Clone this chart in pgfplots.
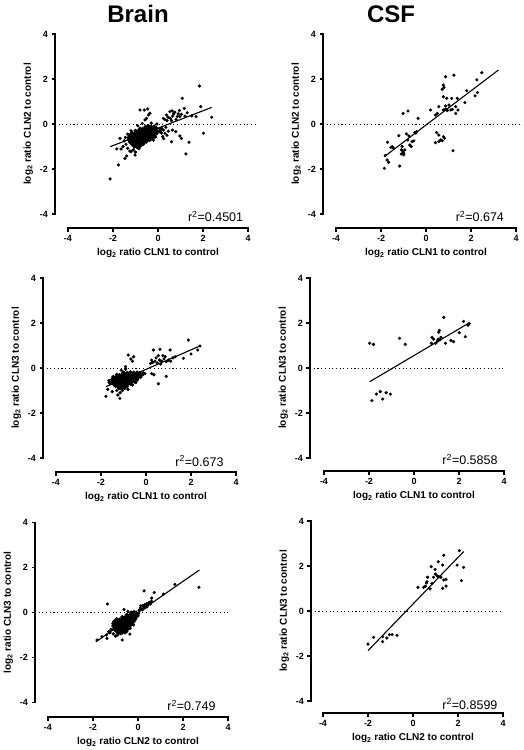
\documentclass[border=0pt]{standalone}
\usepackage{pgfplots}
\pgfplotsset{compat=1.18}
\usepackage{fontspec}
\setmainfont{Liberation Sans}

\pgfplotsset{
 prism/.style={
   x=22.5pt, y=22.5pt,
   xmin=-4, xmax=4, ymin=-4, ymax=4,
   clip=false,
   anchor=south west,
   axis lines*=left,
   axis line style={draw=none},
   tick align=outside,
   major tick length=3.5pt,
   tick style={draw=none},
   xtick={-4,-2,0,2,4}, xticklabels={-4,-2,0,2,4},
   ytick={-4,-2,0,2,4}, yticklabels={-4,-2,0,2,4},
   minor tick num=0,
   tick label style={font=\bfseries\fontsize{9}{10}\selectfont},
   label style={font=\bfseries\fontsize{10}{12}\selectfont},
 },
 dots/.style={only marks, mark=*, mark size=1.4pt, black},
 core/.style={only marks, mark=*, mark size=1.95pt, black},
 fit/.style={black, line width=1.1pt, no marks},
 zero/.style={black, line width=0.9pt, dash pattern=on 1.1pt off 2.6pt, no marks},
 axdash/.style={black, line width=1.2pt, no marks, dash pattern=on 400pt off 1pt},
 bar/.style={fill=black, draw=none, no marks},
}
% ticks: #1 = x of y-axis line, #2 = y of x-axis line, #3 = x end of y ticks, #4 = y end of x ticks
\newcommand{\prismticks}[4]{%
 \addplot[axdash] coordinates {(-4,#2) (-4,#4)};
 \addplot[axdash] coordinates {(-2,#2) (-2,#4)};
 \addplot[axdash] coordinates {(0,#2) (0,#4)};
 \addplot[axdash] coordinates {(2,#2) (2,#4)};
 \addplot[axdash] coordinates {(4,#2) (4,#4)};
 \addplot[axdash] coordinates {(#1,-4) (#3,-4)};
 \addplot[axdash] coordinates {(#1,-2) (#3,-2)};
 \addplot[axdash] coordinates {(#1,0) (#3,0)};
 \addplot[axdash] coordinates {(#1,2) (#3,2)};
 \addplot[axdash] coordinates {(#1,4) (#3,4)};
}
% axis bars: #1,#2 = x range of the y-axis bar, #3,#4 = y range of the x-axis bar
\newcommand{\prismbars}[4]{%
 \addplot[bar] coordinates {(#1,-4.03) (#2,-4.03) (#2,4.03) (#1,4.03)} -- cycle;
 \addplot[bar] coordinates {(-4.03,#3) (4.03,#3) (4.03,#4) (-4.03,#4)} -- cycle;
}
\newcommand{\rsq}[1]{\fontsize{12.5}{14}\selectfont r\textsuperscript{2}=#1}

\begin{document}
\begin{tikzpicture}
\useasboundingbox (0pt,0pt) rectangle (524pt,-750pt);

% ---------------- P1 Brain CLN1 vs CLN2
\begin{axis}[prism, at={(68pt,-214pt)}, axis x line shift=14pt, axis y line shift=13pt,
  xlabel={log\textsubscript{2} ratio CLN1 to control},
  ylabel={log\textsubscript{2} ratio CLN2 to control}]
\prismbars{-4.607}{-4.549}{-4.651}{-4.593}
\prismticks{-4.578}{-4.622}{-4.73}{-4.79}
\addplot[zero] coordinates {(-4.58,0) (4.44,0)};
\addplot[core] coordinates {
(-0.55,-0.12) (-0.42,-0.1) (-0.3,-0.13) (-0.17,-0.11)
(-0.8,-0.2) (-0.68,-0.22) (-0.56,-0.19) (-0.44,-0.21) (-0.32,-0.2) (-0.2,-0.22) (-0.08,-0.19)
(-1.0,-0.3) (-0.88,-0.32) (-0.76,-0.29) (-0.64,-0.31) (-0.52,-0.3) (-0.4,-0.32) (-0.28,-0.29) (-0.16,-0.31) (-0.04,-0.3)
(-1.15,-0.4) (-1.03,-0.42) (-0.91,-0.39) (-0.79,-0.41) (-0.67,-0.4) (-0.55,-0.42) (-0.43,-0.39) (-0.31,-0.41) (-0.19,-0.4) (-0.07,-0.42)
(-1.25,-0.5) (-1.13,-0.52) (-1.01,-0.49) (-0.89,-0.51) (-0.77,-0.5) (-0.65,-0.52) (-0.53,-0.49) (-0.41,-0.51) (-0.29,-0.5) (-0.17,-0.52)
(-1.3,-0.6) (-1.18,-0.62) (-1.06,-0.59) (-0.94,-0.61) (-0.82,-0.6) (-0.7,-0.62) (-0.58,-0.59) (-0.46,-0.61) (-0.34,-0.6) (-0.22,-0.62)
(-1.3,-0.7) (-1.18,-0.72) (-1.06,-0.69) (-0.94,-0.71) (-0.82,-0.7) (-0.7,-0.72) (-0.58,-0.69) (-0.46,-0.71) (-0.36,-0.7)
(-1.25,-0.8) (-1.13,-0.82) (-1.01,-0.79) (-0.89,-0.81) (-0.77,-0.8) (-0.65,-0.82) (-0.53,-0.79)
(-1.15,-0.9) (-1.03,-0.92) (-0.91,-0.89) (-0.79,-0.91) (-0.67,-0.9)
(-1.05,-1.0) (-0.93,-1.02) (-0.81,-0.99)
};
\addplot[dots] coordinates {
(-1.5,-0.75) (-1.45,-0.6) (-1.42,-0.9) (-1.55,-1.0) (-1.35,-1.08) (-1.25,-1.2) (-1.1,-1.15) (-1.0,-1.25) (-0.85,-1.1)
(-0.2,-0.72) (-0.1,-0.58) (0.05,-0.35) (0.08,-0.2) (-0.05,0.0) (-0.3,0.04) (-0.7,0.02) (-0.9,-0.08) (-1.2,-0.3) (-1.35,-0.45)
(-2.13,-2.44) (-1.76,-1.82) (-1.47,-1.53) (-1.39,-1.42) (-1.83,-1.11) (-1.64,-1.11) (-1.69,-0.64) (-1.02,-1.38) (-1.2,-1.23)
(-0.8,0.62) (-0.61,0.62) (-0.46,0.67) (-0.36,0.48) (-0.51,0.25) (-0.58,0.18) (-0.42,0.4)
(1.08,1.14) (1.84,1.69) (1.17,0.69) (1.9,0.77) (2.39,0.3) (2.02,-0.41) (1.38,-0.81) (1.24,-1.33)
(0.6,-0.79) (0.97,-0.53) (1.04,-0.64) (0.79,-0.34) (0.64,-0.27)
(0.24,0.25) (0.38,0.4) (0.53,0.55) (0.63,0.58) (0.75,0.53) (0.86,0.33) (0.97,0.33) (1.04,0.43) (1.5,0.36) (1.69,0.33)
(0.3,0.2) (0.45,0.3) (0.55,0.25) (0.65,0.35) (0.7,0.45) (0.8,0.2) (0.9,0.45) (0.6,0.15) (0.4,0.15) (1.2,0.35) (1.3,0.5) (0.95,0.6)
(0.16,-0.19) (0.24,-0.27) (0.31,-0.41) (0.21,-0.56) (0.46,-0.32) (0.35,-0.15) (0.15,-0.4) (0.25,-0.65) (0.12,-0.3) (0.4,-0.5)
};
\addplot[fit] coordinates {(-2.13,-1.01) (2.39,0.74)};
\node[anchor=base east] at (axis cs:3.94,-4.34) {\rsq{0.4501}};
\end{axis}

% ---------------- P2 CSF CLN1 vs CLN2
\begin{axis}[prism, at={(336pt,-214pt)}, axis x line shift=14pt, axis y line shift=13pt,
  xlabel={log\textsubscript{2} ratio CLN1 to control},
  ylabel={log\textsubscript{2} ratio CLN2 to control}]
\prismbars{-4.607}{-4.549}{-4.651}{-4.593}
\prismticks{-4.578}{-4.622}{-4.73}{-4.79}
\addplot[zero] coordinates {(-4.58,0) (4.3,0)};
\addplot[dots] coordinates {
(-1.85,-1.97) (-1.73,-1.6) (-1.66,-1.7) (-1.81,-1.4) (-1.71,-0.81) (-1.56,-1.04) (-1.44,-1.08)
(-1.17,-1.87) (-1.21,-0.52) (-1.09,-1.15) (-1.02,-1.23) (-0.99,-1.3) (-1.06,-1.0) (-0.94,-1.15)
(-0.87,-0.44) (-0.76,-0.53) (-0.81,-0.71) (-0.72,-0.93) (-0.66,-1.0) (-0.62,-0.78) (-0.54,-0.75)
(-0.5,-0.38) (-0.42,-0.34) (-1.02,0.47) (-0.8,0.58) (-0.35,0.25) (0.2,0.62) (0.42,0.4) (0.5,0.47)
(0.47,-0.38) (0.57,-0.49) (0.65,-0.71) (0.42,-0.83) (0.57,-0.78) (0.72,-0.74) (0.82,-0.63) (0.77,-0.56)
(1.2,-1.19) (0.57,0.77) (0.77,0.62) (0.87,0.67) (0.95,0.6) (1.1,0.62) (1.02,0.84) (0.87,0.8)
(0.77,1.21) (0.92,1.14) (0.72,1.54) (0.8,1.63) (0.77,1.73) (0.87,2.1) (1.24,2.17) (1.14,1.14)
(1.39,1.14) (1.32,0.77) (1.42,0.62) (1.32,0.47) (1.17,0.65) (1.73,0.95) (1.81,1.48) (2.18,1.25)
(2.29,1.4) (2.26,1.96) (2.48,2.28) (-0.99,-1.37) (-1.1,-1.33) (-0.45,-0.4) (-1.5,-1.0)
};
\addplot[fit] coordinates {(-1.85,-1.45) (3.22,2.4)};
\node[anchor=base east] at (axis cs:3.62,-4.34) {\rsq{0.674}};
\end{axis}

% ---------------- P3 Brain CLN1 vs CLN3
\begin{axis}[prism, at={(56pt,-458pt)}, axis x line shift=14pt, axis y line shift=13pt,
  xlabel={log\textsubscript{2} ratio CLN1 to control},
  ylabel={log\textsubscript{2} ratio CLN3 to control}]
\prismbars{-4.607}{-4.549}{-4.651}{-4.593}
\prismticks{-4.578}{-4.622}{-4.73}{-4.79}
\addplot[zero] coordinates {(-4.58,0) (4.04,0)};
\addplot[core] coordinates {
(-1.0,-0.2) (-0.85,-0.22) (-0.7,-0.19) (-0.55,-0.21) (-0.4,-0.2) (-0.28,-0.22)
(-1.3,-0.3) (-1.18,-0.32) (-1.06,-0.29) (-0.94,-0.31) (-0.82,-0.3) (-0.7,-0.32) (-0.58,-0.29) (-0.46,-0.31) (-0.34,-0.3) (-0.22,-0.32)
(-1.45,-0.4) (-1.33,-0.42) (-1.21,-0.39) (-1.09,-0.41) (-0.97,-0.4) (-0.85,-0.42) (-0.73,-0.39) (-0.61,-0.41) (-0.49,-0.4) (-0.37,-0.42) (-0.25,-0.4)
(-1.5,-0.5) (-1.38,-0.52) (-1.26,-0.49) (-1.14,-0.51) (-1.02,-0.5) (-0.9,-0.52) (-0.78,-0.49) (-0.66,-0.51) (-0.54,-0.5) (-0.4,-0.52)
(-1.5,-0.6) (-1.38,-0.62) (-1.26,-0.59) (-1.14,-0.61) (-1.02,-0.6) (-0.9,-0.62) (-0.78,-0.59) (-0.66,-0.61) (-0.52,-0.6)
(-1.45,-0.7) (-1.33,-0.72) (-1.21,-0.69) (-1.09,-0.71) (-0.97,-0.7) (-0.85,-0.72) (-0.7,-0.69)
(-1.35,-0.8) (-1.23,-0.82) (-1.11,-0.79) (-0.99,-0.81) (-0.85,-0.8)
(-1.2,-0.9) (-1.08,-0.92) (-0.95,-0.89)
};
\addplot[dots] coordinates {
(-0.12,-0.21) (-0.15,-0.3) (-0.05,-0.25) (-1.1,-0.1) (-0.9,-0.05) (-1.6,-0.7) (-1.65,-0.55) (-1.3,-1.0) (-1.05,-1.0)
(-0.8,-0.95) (-1.15,-1.1) (-0.6,-0.75) (-0.45,-0.65)
(-1.78,-1.26) (-1.16,-1.35) (-1.25,-1.2) (-0.79,0.58) (-0.6,0.3) (-0.67,0.4) (-0.55,0.5) (-0.91,0.06) (-1.64,-0.63) (-1.7,-0.95) (-1.5,-1.05)
(0.33,0.8) (0.62,0.83) (1.07,0.8) (1.88,1.24) (1.66,0.43) (2.0,0.62) (0.9,-0.37) (0.55,-0.7) (0.25,-0.25) (0.35,-0.3)
(0.2,0.2) (0.3,0.25) (0.4,0.3) (0.5,0.22) (0.6,0.35) (0.7,0.3) (0.8,0.4) (0.9,0.28) (1.0,0.35) (1.1,0.3) (1.2,0.45)
(0.45,0.45) (0.55,0.55) (0.75,0.55) (0.85,0.5) (1.3,0.5) (0.25,0.35) (0.65,0.18) (2.4,0.98) (2.3,0.8)
};
\addplot[fit] coordinates {(-1.78,-0.83) (2.4,0.98)};
\node[anchor=base east] at (axis cs:3.6,-4.36) {\rsq{0.673}};
\end{axis}

% ---------------- P4 CSF CLN1 vs CLN3
\begin{axis}[prism, at={(324pt,-458pt)}, axis x line shift=13pt, axis y line shift=14pt,
  xlabel={log\textsubscript{2} ratio CLN1 to control},
  ylabel={log\textsubscript{2} ratio CLN3 to control}]
\prismbars{-4.651}{-4.593}{-4.607}{-4.549}
\prismticks{-4.622}{-4.578}{-4.78}{-4.75}
\addplot[zero] coordinates {(-4.62,0) (3.95,0)};
\addplot[dots] coordinates {
(-1.97,1.1) (-1.8,1.05) (-0.64,1.32) (-0.39,1.05)
(-1.87,-1.45) (-1.67,-1.16) (-1.5,-1.05) (-1.39,-1.38) (-1.24,-1.1) (-1.05,-1.16)
(1.32,2.25) (0.8,1.36) (0.87,1.28) (0.77,1.1) (0.96,1.1) (1.07,1.28) (1.1,1.59) (1.13,1.67)
(1.2,1.36) (1.4,1.1) (1.64,1.22) (1.76,1.17) (2.01,1.57) (2.2,2.07) (2.28,1.39) (2.46,1.97)
(1.05,1.2) (1.15,1.25) (2.4,1.9)
};
\addplot[fit] coordinates {(-1.97,-0.61) (2.46,2.01)};
\node[anchor=base east] at (axis cs:3.87,-4.31) {\rsq{0.5858}};
\end{axis}

% ---------------- P5 Brain CLN2 vs CLN3
\begin{axis}[prism, at={(48pt,-702.5pt)}, axis x line shift=14.5pt, axis y line shift=13pt,
  xlabel={log\textsubscript{2} ratio CLN2 to control},
  ylabel={log\textsubscript{2} ratio CLN3 to control}]
\prismbars{-4.607}{-4.549}{-4.673}{-4.615}
\prismticks{-4.578}{-4.644}{-4.73}{-4.81}
\addplot[zero] coordinates {(-4.58,0) (4.04,0)};
\addplot[core] coordinates {
(-0.3,0.0) (-0.18,0.02) (-0.08,-0.01)
(-0.5,-0.1) (-0.38,-0.12) (-0.26,-0.09) (-0.14,-0.11) (-0.04,-0.1)
(-0.7,-0.2) (-0.58,-0.22) (-0.46,-0.19) (-0.34,-0.21) (-0.22,-0.2) (-0.1,-0.22)
(-0.95,-0.3) (-0.83,-0.32) (-0.71,-0.29) (-0.59,-0.31) (-0.47,-0.3) (-0.35,-0.32) (-0.23,-0.29) (-0.13,-0.3)
(-1.05,-0.4) (-0.93,-0.42) (-0.81,-0.39) (-0.69,-0.41) (-0.57,-0.4) (-0.45,-0.42) (-0.33,-0.39) (-0.2,-0.41)
(-1.1,-0.5) (-0.98,-0.52) (-0.86,-0.49) (-0.74,-0.51) (-0.62,-0.5) (-0.5,-0.52) (-0.38,-0.49) (-0.26,-0.51)
(-1.1,-0.6) (-0.98,-0.62) (-0.86,-0.59) (-0.74,-0.61) (-0.62,-0.6) (-0.5,-0.62) (-0.36,-0.59)
(-1.05,-0.7) (-0.93,-0.72) (-0.81,-0.69) (-0.69,-0.71) (-0.57,-0.7) (-0.45,-0.72)
(-1.0,-0.8) (-0.88,-0.82) (-0.76,-0.79) (-0.64,-0.81) (-0.55,-0.8)
(-0.9,-0.9) (-0.78,-0.92) (-0.7,-0.89)
};
\addplot[dots] coordinates {
(-1.2,-0.75) (-1.25,-0.9) (-1.1,-0.95) (-1.3,-0.85) (-1.4,-1.0) (-0.9,-1.0) (-0.5,-0.85) (-0.35,-0.7) (-0.2,-0.55)
(0.0,-0.15) (0.02,-0.05) (-0.45,0.05)
(-1.36,0.38) (-0.62,0.13) (2.71,1.12) (1.64,1.25) (1.13,0.82) (0.27,0.96) (0.72,0.89) (0.61,0.64)
(-0.7,-1.22) (-1.38,-1.15) (-1.6,-1.08) (-1.82,-1.22) (-0.36,-0.96) (-0.58,-0.91) (-1.0,-1.05)
(0.05,0.1) (0.1,0.2) (0.15,0.15) (0.2,0.3) (0.25,0.25) (0.3,0.35) (0.35,0.3) (0.4,0.4) (0.45,0.35) (0.5,0.45)
(0.55,0.38) (0.6,0.5) (0.3,0.2) (0.2,0.12) (0.12,0.3) (0.4,0.25)
};
\addplot[fit] coordinates {(-1.87,-1.3) (2.73,1.89)};
\node[anchor=base east] at (axis cs:3.6,-4.36) {\rsq{0.749}};
\end{axis}

% ---------------- P6 CSF CLN2 vs CLN3
\begin{axis}[prism, at={(323pt,-701pt)}, axis x line shift=12pt, axis y line shift=12pt,
  xlabel={log\textsubscript{2} ratio CLN2 to control},
  ylabel={log\textsubscript{2} ratio CLN3 to control}]
\prismbars{-4.562}{-4.504}{-4.562}{-4.504}
\prismticks{-4.533}{-4.533}{-4.69}{-4.71}
\addplot[zero] coordinates {(-4.53,0) (3.9,0)};
\addplot[dots] coordinates {
(-2.0,-1.47) (-1.75,-1.17) (-1.35,-1.14) (-1.35,-1.36) (-1.16,-1.2) (-1.05,-1.05) (-0.93,-1.05) (-0.71,-1.08)
(0.22,1.05) (0.47,1.05) (0.55,1.1) (0.62,1.3) (0.65,1.5) (0.81,1.97) (0.84,1.22) (0.91,1.5) (0.98,1.85)
(1.0,1.64) (1.09,1.55) (1.12,2.19) (1.16,1.52) (1.24,1.5) (1.32,1.01) (1.32,2.04) (1.37,2.48) (1.37,1.38)
(1.47,1.41) (1.47,1.11) (1.96,2.04) (2.06,2.68) (2.15,1.35) (2.25,1.94) (0.76,0.98) (0.6,1.25)
};
\addplot[fit] coordinates {(-2.0,-1.76) (2.25,2.64)};
\node[anchor=base east] at (axis cs:3.91,-4.36) {\rsq{0.8599}};
\end{axis}

\node[anchor=base, font=\bfseries\fontsize{24}{28}\selectfont] at (138pt,-22pt) {Brain};
\node[anchor=base, font=\bfseries\fontsize{24}{28}\selectfont] at (391pt,-22pt) {CSF};
\end{tikzpicture}
\end{document}
